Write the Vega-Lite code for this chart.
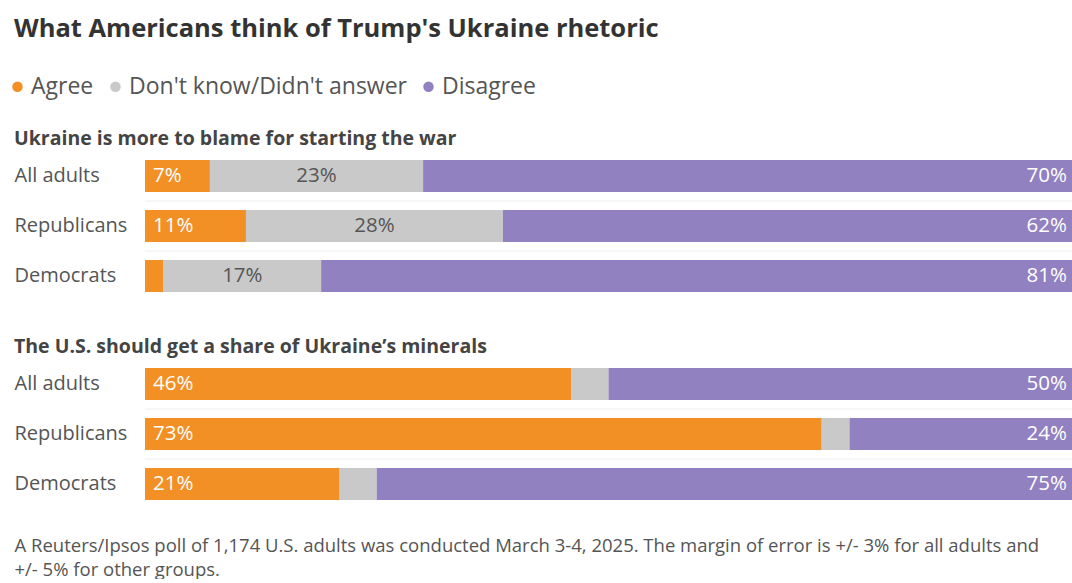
{
  "$schema": "https://vega.github.io/schema/vega-lite/v6.json",
  "padding": {"left": 6, "top": 16, "right": 0, "bottom": 0},
  "background": "white",
  "title": {
    "text": "What Americans think of Trump's Ukraine rhetoric",
    "anchor": "start",
    "frame": "bounds",
    "font": "Open Sans",
    "fontSize": 25.5,
    "fontWeight": "bold",
    "color": "#333333",
    "offset": 33,
    "dx": 8
  },
  "datasets": {
    "poll": [
      {"section": "blame", "group": "All adults", "answer": "Agree", "order": 1, "value": 7, "label": "7%"},
      {"section": "blame", "group": "All adults", "answer": "Don't know/Didn't answer", "order": 2, "value": 23, "label": "23%"},
      {"section": "blame", "group": "All adults", "answer": "Disagree", "order": 3, "value": 70, "label": "70%"},
      {"section": "blame", "group": "Republicans", "answer": "Agree", "order": 1, "value": 11, "label": "11%"},
      {"section": "blame", "group": "Republicans", "answer": "Don't know/Didn't answer", "order": 2, "value": 28, "label": "28%"},
      {"section": "blame", "group": "Republicans", "answer": "Disagree", "order": 3, "value": 62, "label": "62%"},
      {"section": "blame", "group": "Democrats", "answer": "Agree", "order": 1, "value": 2, "label": "2%"},
      {"section": "blame", "group": "Democrats", "answer": "Don't know/Didn't answer", "order": 2, "value": 17, "label": "17%"},
      {"section": "blame", "group": "Democrats", "answer": "Disagree", "order": 3, "value": 81, "label": "81%"},
      {"section": "minerals", "group": "All adults", "answer": "Agree", "order": 1, "value": 46, "label": "46%"},
      {"section": "minerals", "group": "All adults", "answer": "Don't know/Didn't answer", "order": 2, "value": 4, "label": "4%"},
      {"section": "minerals", "group": "All adults", "answer": "Disagree", "order": 3, "value": 50, "label": "50%"},
      {"section": "minerals", "group": "Republicans", "answer": "Agree", "order": 1, "value": 73, "label": "73%"},
      {"section": "minerals", "group": "Republicans", "answer": "Don't know/Didn't answer", "order": 2, "value": 3, "label": "3%"},
      {"section": "minerals", "group": "Republicans", "answer": "Disagree", "order": 3, "value": 24, "label": "24%"},
      {"section": "minerals", "group": "Democrats", "answer": "Agree", "order": 1, "value": 21, "label": "21%"},
      {"section": "minerals", "group": "Democrats", "answer": "Don't know/Didn't answer", "order": 2, "value": 4, "label": "4%"},
      {"section": "minerals", "group": "Democrats", "answer": "Disagree", "order": 3, "value": 75, "label": "75%"}
    ]
  },
  "data": {"name": "poll"},
  "spacing": 35,
  "vconcat": [
    {
      "title": {"text": "Ukraine is more to blame for starting the war"},
      "width": 927,
      "height": 150,
      "transform": [{"filter": "datum.section === 'blame'"}],
      "layer": [
        {
          "mark": {"type": "rule", "color": "#eeeeee", "strokeWidth": 1},
          "transform": [{"filter": "datum.order === 1 && datum.group !== 'All adults'"}],
          "encoding": {
            "y": {"field": "group", "type": "nominal", "sort": ["All adults", "Republicans", "Democrats"], "bandPosition": -0.28}
          }
        },
        {
          "mark": {"type": "bar"},
          "encoding": {
            "y": {"field": "group", "type": "nominal", "sort": ["All adults", "Republicans", "Democrats"]},
            "x": {"field": "value", "type": "quantitative", "stack": "normalize", "axis": null},
            "color": {"field": "answer", "type": "nominal", "scale": {"domain": ["Agree", "Don't know/Didn't answer", "Disagree"], "range": ["#F39025", "#C9C9C9", "#9281C1"]},
              "legend": {"orient": "none", "legendX": -139, "legendY": -76, "direction": "horizontal", "padding": 0}},
            "order": {"field": "order", "type": "quantitative"}
          }
        },
        {
          "mark": {"type": "text", "align": "left", "dx": 8, "color": "white", "fontSize": 20.5, "font": "Open Sans"},
          "encoding": {
            "y": {"field": "group", "type": "nominal", "sort": ["All adults", "Republicans", "Democrats"]},
            "x": {"field": "value", "type": "quantitative", "stack": "normalize", "bandPosition": 0},
            "order": {"field": "order", "type": "quantitative"},
            "text": {"condition": {"test": "datum.order === 1 && datum.value >= 5", "field": "label"}, "value": ""}
          }
        },
        {
          "mark": {"type": "text", "align": "center", "color": "#555555", "fontSize": 20.5, "font": "Open Sans"},
          "encoding": {
            "y": {"field": "group", "type": "nominal", "sort": ["All adults", "Republicans", "Democrats"]},
            "x": {"field": "value", "type": "quantitative", "stack": "normalize", "bandPosition": 0.5},
            "order": {"field": "order", "type": "quantitative"},
            "text": {"condition": {"test": "datum.order === 2 && datum.value >= 10", "field": "label"}, "value": ""}
          }
        },
        {
          "mark": {"type": "text", "align": "right", "dx": -5, "color": "white", "fontSize": 20.5, "font": "Open Sans"},
          "encoding": {
            "y": {"field": "group", "type": "nominal", "sort": ["All adults", "Republicans", "Democrats"]},
            "x": {"field": "value", "type": "quantitative", "stack": "normalize", "bandPosition": 1},
            "order": {"field": "order", "type": "quantitative"},
            "text": {"condition": {"test": "datum.order === 3", "field": "label"}, "value": ""}
          }
        }
      ]
    },
    {
      "title": {"text": "The U.S. should get a share of Ukraine\u2019s minerals"},
      "width": 927,
      "height": 150,
      "transform": [{"filter": "datum.section === 'minerals'"}],
      "layer": [
        {
          "mark": {"type": "rule", "color": "#eeeeee", "strokeWidth": 1},
          "transform": [{"filter": "datum.order === 1 && datum.group !== 'All adults'"}],
          "encoding": {
            "y": {"field": "group", "type": "nominal", "sort": ["All adults", "Republicans", "Democrats"], "bandPosition": -0.28}
          }
        },
        {
          "mark": {"type": "bar"},
          "encoding": {
            "y": {"field": "group", "type": "nominal", "sort": ["All adults", "Republicans", "Democrats"]},
            "x": {
              "field": "value", "type": "quantitative", "stack": "normalize",
              "axis": {
                "title": ["A Reuters/Ipsos poll of 1,174 U.S. adults was conducted March 3-4, 2025. The margin of error is +/- 3% for all adults and", "+/- 5% for other groups."],
                "labels": false, "ticks": false, "domain": false, "grid": false,
                "titleAnchor": "start", "titleAlign": "left", "titleX": -131,
                "titleFont": "Open Sans", "titleFontSize": 18.5, "titleFontWeight": "normal",
                "titleColor": "#555555", "titlePadding": 27, "titleLineHeight": 24
              }
            },
            "color": {"field": "answer", "type": "nominal", "scale": {"domain": ["Agree", "Don't know/Didn't answer", "Disagree"], "range": ["#F39025", "#C9C9C9", "#9281C1"]}},
            "order": {"field": "order", "type": "quantitative"}
          }
        },
        {
          "mark": {"type": "text", "align": "left", "dx": 8, "color": "white", "fontSize": 20.5, "font": "Open Sans"},
          "encoding": {
            "y": {"field": "group", "type": "nominal", "sort": ["All adults", "Republicans", "Democrats"]},
            "x": {"field": "value", "type": "quantitative", "stack": "normalize", "bandPosition": 0},
            "order": {"field": "order", "type": "quantitative"},
            "text": {"condition": {"test": "datum.order === 1 && datum.value >= 5", "field": "label"}, "value": ""}
          }
        },
        {
          "mark": {"type": "text", "align": "center", "color": "#555555", "fontSize": 20.5, "font": "Open Sans"},
          "encoding": {
            "y": {"field": "group", "type": "nominal", "sort": ["All adults", "Republicans", "Democrats"]},
            "x": {"field": "value", "type": "quantitative", "stack": "normalize", "bandPosition": 0.5},
            "order": {"field": "order", "type": "quantitative"},
            "text": {"condition": {"test": "datum.order === 2 && datum.value >= 10", "field": "label"}, "value": ""}
          }
        },
        {
          "mark": {"type": "text", "align": "right", "dx": -5, "color": "white", "fontSize": 20.5, "font": "Open Sans"},
          "encoding": {
            "y": {"field": "group", "type": "nominal", "sort": ["All adults", "Republicans", "Democrats"]},
            "x": {"field": "value", "type": "quantitative", "stack": "normalize", "bandPosition": 1},
            "order": {"field": "order", "type": "quantitative"},
            "text": {"condition": {"test": "datum.order === 3", "field": "label"}, "value": ""}
          }
        }
      ]
    }
  ],
  "resolve": {"scale": {"color": "shared"}},
  "config": {
    "view": {"stroke": null},
    "font": "Open Sans",
    "title": {"anchor": "start", "frame": "bounds", "font": "Open Sans", "fontSize": 19.5, "fontWeight": "bold", "color": "#444444", "offset": 2},
    "scale": {"bandPaddingInner": 0.36, "bandPaddingOuter": 0.18},
    "axisY": {
      "title": null, "domain": false, "ticks": false, "grid": false,
      "labelAlign": "left", "labelPadding": 131, "labelFontSize": 20,
      "labelColor": "#555555", "labelFont": "Open Sans"
    },
    "legend": {
      "title": null, "padding": 0,
      "symbolType": "circle", "symbolSize": 110, "symbolStrokeWidth": 0,
      "labelFontSize": 23, "labelColor": "#555555", "labelFont": "Open Sans", "labelLimit": 0,
      "labelOffset": 2, "columnPadding": 10
    }
  }
}
